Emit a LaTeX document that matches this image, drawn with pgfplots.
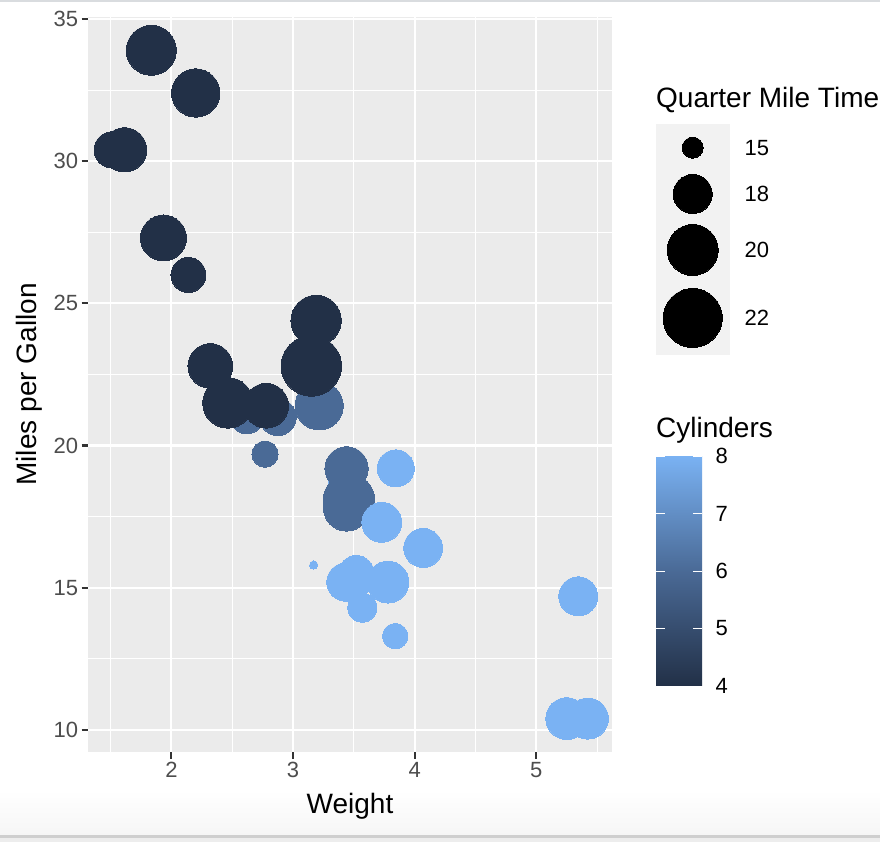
\documentclass[border=0pt]{standalone}
\usepackage{pgfplots}
\pgfplotsset{compat=1.18}
\usepackage{pgfplotstable}
\usepackage{fontspec}
\setmainfont{Liberation Sans}

\definecolor{panelbg}{HTML}{EBEBEB}
\definecolor{tickgray}{HTML}{4D4D4D}
\definecolor{tickdark}{HTML}{333333}
\definecolor{keybg}{HTML}{F2F2F2}
\definecolor{topline}{HTML}{D9DCDF}
\definecolor{botshade}{HTML}{F6F6F6}
\definecolor{botline}{HTML}{CFCFCF}
\definecolor{botfill}{HTML}{EDEDED}

\pgfplotstableread{
wt mpg cyl qsec
2.620 21.0 6 16.46
2.875 21.0 6 17.02
2.320 22.8 4 18.61
3.215 21.4 6 19.44
3.440 18.7 8 17.02
3.460 18.1 6 20.22
3.570 14.3 8 15.84
3.190 24.4 4 20.00
3.150 22.8 4 22.90
3.440 19.2 6 18.30
3.440 17.8 6 18.90
4.070 16.4 8 17.40
3.730 17.3 8 17.60
3.780 15.2 8 18.00
5.250 10.4 8 17.98
5.424 10.4 8 17.82
5.345 14.7 8 17.42
2.200 32.4 4 19.47
1.615 30.4 4 18.52
1.835 33.9 4 19.90
2.465 21.5 4 20.01
3.520 15.5 8 16.87
3.435 15.2 8 17.30
3.840 13.3 8 15.41
3.845 19.2 8 17.05
1.935 27.3 4 18.90
2.140 26.0 4 16.70
1.513 30.4 4 16.90
3.170 15.8 8 14.50
2.770 19.7 6 15.50
3.570 15.0 8 14.60
2.780 21.4 4 18.60
}\mtcars

\pgfplotstableread{
kx ky diam
36.7 147.7 21
36.7 194.0 39
36.7 250.0 51
36.7 318.0 59
}\sizekeys

\begin{document}
\begin{tikzpicture}
\useasboundingbox (0pt,0pt) rectangle (880pt,842pt);
\clip (0pt,0pt) rectangle (880pt,842pt);
\fill[white] (0pt,0pt) rectangle (880pt,842pt);
\fill[topline] (0pt,839.5pt) rectangle (880pt,842pt);
\shade[top color=white, bottom color=botshade] (0pt,6.5pt) rectangle (880pt,52pt);
\fill[botline] (0pt,4.3pt) rectangle (880pt,6.5pt);
\fill[botfill] (0pt,0pt) rectangle (880pt,4.3pt);

\begin{axis}[
  at={(88.3pt,90pt)}, anchor=south west,
  scale only axis, width=523.4pt, height=735.1pt,
  xmin=1.317, xmax=5.620, ymin=9.225, ymax=35.075,
  axis background/.style={fill=panelbg},
  axis line style={draw=none},
  xtick={2,3,4,5}, ytick={10,15,20,25,30,35},
  minor xtick={1.5,2.5,3.5,4.5,5.5},
  minor ytick={12.5,17.5,22.5,27.5,32.5},
  grid=both,
  major grid style={white, line width=2.2pt},
  minor grid style={white, line width=1.1pt},
  tick align=outside, xtick pos=left, ytick pos=left,
  major tick length=6.6pt, minor tick length=0pt,
  major tick style={draw=tickdark, line width=2.2pt},
  minor tick style={draw=none},
  tick label style={font=\fontsize{22}{26}\selectfont, text=tickgray},
  /pgf/number format/assume math mode=true,
  xlabel={Weight}, ylabel={Miles per Gallon},
  label style={font=\fontsize{28}{32}\selectfont, text=black},
  xlabel style={at={(axis description cs:0.5,-0.0843)}, anchor=base},
  ylabel style={at={(axis description cs:-0.099,0.5)}, anchor=base},
  point meta min=4, point meta max=8,
  colormap={cyl}{rgb255=(34,48,71) rgb255=(74,106,150) rgb255=(122,178,243)},
  colorbar,
  colorbar shift/.style={},
  colorbar/width=46pt,
  colorbar style={
    at={(656pt,156pt)}, anchor=south west,
    scale only axis, width=46pt, height=230pt,
    axis line style={draw=none},
    ytick={4,5,6,7,8},
    tick align=inside, ytick pos=both, yticklabel pos=right,
    major tick length=9pt,
    major tick style={draw=white, line width=0.9pt},
    yticklabel style={font=\fontsize{22}{26}\selectfont, text=black, xshift=10pt},
    /pgf/number format/assume math mode=true,
  },
]
\addplot[scatter, only marks, mark=*,
  point meta=\thisrow{cyl},
  scatter/use mapped color={draw=mapped color, fill=mapped color},
  visualization depends on={(8.2+52.2*sqrt((\thisrow{qsec}-14.5)/8.4))/2 \as \rad},
  scatter/@pre marker code/.append style={/tikz/mark size=\rad},
  mark options={line width=0pt}
] table[x=wt, y=mpg] {\mtcars};
\end{axis}

\begin{axis}[
  at={(656pt,487pt)}, anchor=south west,
  scale only axis, width=74pt, height=231pt,
  xmin=0, xmax=74, ymin=124, ymax=355, y dir=reverse,
  axis background/.style={fill=keybg},
  axis line style={draw=none},
  xtick=\empty,
  ytick={147.7,194,250,318}, yticklabels={15,18,20,22},
  ytick pos=right, yticklabel pos=right,
  major tick length=0pt,
  yticklabel style={font=\fontsize{22}{26}\selectfont, text=black, xshift=11pt},
  clip=false,
]
\addplot[only marks, mark=*, black,
  scatter, scatter/use mapped color={draw=black, fill=black},
  visualization depends on={\thisrow{diam}/2 \as \rad},
  scatter/@pre marker code/.append style={/tikz/mark size=\rad},
  mark options={line width=0pt}
] table[x=kx, y=ky] {\sizekeys};
\end{axis}

\node[anchor=base west, inner sep=0pt, font=\fontsize{28}{32}\selectfont] at (656pt,734.3pt) {Quarter Mile Time};
\node[anchor=base west, inner sep=0pt, font=\fontsize{28}{32}\selectfont] at (656pt,404.5pt) {Cylinders};
\end{tikzpicture}
\end{document}
